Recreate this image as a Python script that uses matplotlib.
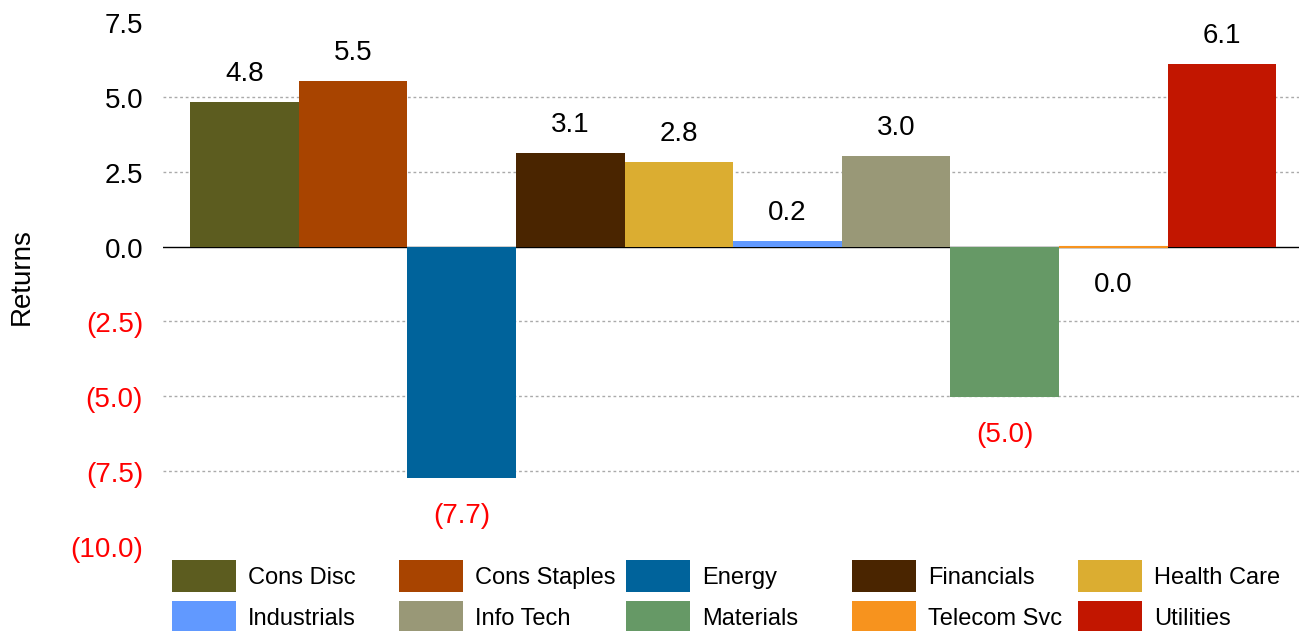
import numpy as np
import matplotlib
matplotlib.use("Agg")
from matplotlib import pyplot as plt
from matplotlib import transforms
from matplotlib.patches import Patch

plt.rcParams['font.family'] = ['Liberation Sans', 'DejaVu Sans']

# sector returns
sectors = ['Cons Disc', 'Cons Staples', 'Energy', 'Financials', 'Health Care',
           'Industrials', 'Info Tech', 'Materials', 'Telecom Svc', 'Utilities']
returns = [4.83, 5.54, -7.74, 3.12, 2.82, 0.20, 3.02, -5.04, 0.0, 6.11]
colors = ['#5C5C1F', '#A84400', '#00639B', '#4A2500', '#DBAD31',
          '#6199FF', '#999877', '#669966', '#F7931E', '#C21600']
y_ticks = [-10.0, -7.5, -5.0, -2.5, 0.0, 2.5, 5.0, 7.5]


def fmt(v):
    if v < -0.049:
        return '({:.1f})'.format(abs(v))
    return '{:.1f}'.format(abs(v) if abs(v) < 0.05 else v)


fig = plt.figure(figsize=(12.99, 6.31), dpi=100)
ax = fig.add_axes([163 / 1299, 85 / 631, 1 - 163 / 1299, (546 - 22) / 631])

x = np.arange(len(sectors))
bars = ax.bar(x, returns, width=1.0, color=colors, edgecolor=colors,
              linewidth=[0 if r != 0 else 1.5 for r in returns], zorder=3)

ax.set_xlim(-0.75, 9.71)
ax.set_ylim(-10, 7.5)
ax.set_yticks(y_ticks)
ax.set_yticklabels([])
ax.tick_params(axis='y', length=0)
ax.set_xticks([])

# tick labels sit a few pixels below their gridlines
shift = transforms.ScaledTranslation(-20 / 100, -4 / 100, fig.dpi_scale_trans)
for v in y_ticks:
    ax.text(0, v, fmt(v), transform=ax.get_yaxis_transform() + shift,
            ha='right', va='center', fontsize=20,
            color='red' if v < 0 else 'black')

for v in y_ticks:
    if v not in (-10.0, 0.0, 7.5):
        ax.axhline(v, color='#AAAAAA', linestyle=(0, (2, 2)), linewidth=1, zorder=1)
ax.axhline(0, color='black', linewidth=1, zorder=2)

for s in ax.spines.values():
    s.set_visible(False)

ax.set_ylabel('Returns', fontsize=20)
ax.yaxis.set_label_coords(-(163 - 35) / (1299 - 163), (546 - 277) / (546 - 22))

# value labels
for xi, v in zip(x, returns):
    if v > 0:
        ax.annotate(fmt(v), (xi, v), xytext=(0, 28), textcoords='offset pixels',
                    ha='center', va='center', fontsize=20, color='black')
    else:
        ax.annotate(fmt(v), (xi, v), xytext=(0, -38), textcoords='offset pixels',
                    ha='center', va='center', fontsize=20,
                    color='red' if v < -0.049 else 'black')

# legend, one column at a time so the pitch stays even
handles = [Patch(facecolor=c, edgecolor='none') for c in colors]
col_x = [172, 399, 626, 852, 1078]
for j, cx in enumerate(col_x):
    idx = [j, j + 5]
    fig.legend([handles[i] for i in idx], [sectors[i] for i in idx],
               loc='upper left', bbox_to_anchor=(cx / 1299, (631 - 560) / 631),
               frameon=False, fontsize=17, handlelength=2.71, handleheight=1.71,
               handletextpad=0.5, labelspacing=0.38, borderpad=0, borderaxespad=0)

fig.savefig('out.png', dpi=100)
